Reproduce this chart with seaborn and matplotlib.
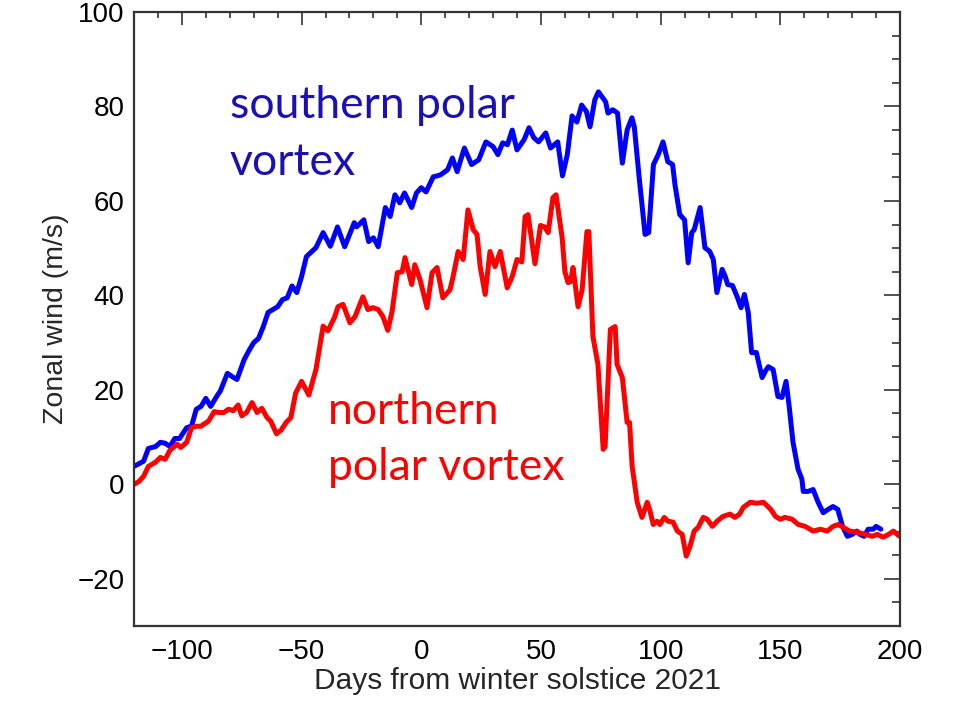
import matplotlib
matplotlib.use("Agg")
import matplotlib.pyplot as plt
from matplotlib.ticker import MultipleLocator
import numpy as np
import pandas as pd
import seaborn as sns

# Zonal-mean zonal wind at the polar vortex edge, days relative to winter solstice 2021
days_south = [-120, -116, -114, -111, -109, -107, -105, -103, -101, -98, -96, -94, -92, -90,
              -88, -85, -84, -81, -79, -77, -74, -72, -70, -68, -66, -64, -60, -58, -56,
              -54, -52, -50, -48, -44, -41, -38, -35, -32, -28, -27, -24, -22, -20, -18,
              -15, -13, -11, -9, -7, -4, -2, 0, 2, 5, 8, 11, 13, 15, 18, 21, 24, 27, 30,
              32, 34, 36, 38, 40, 43, 45, 47, 49, 52, 54, 57, 59, 61, 63, 65, 67, 69,
              70.5, 72.5, 74, 77, 78, 80, 82, 84, 86, 88, 89, 91, 93.5, 95, 97, 99, 101,
              103, 105, 106, 108, 110, 111.5, 113, 114, 116.5, 118.5, 120.5, 122, 123.5,
              125.7, 127, 128, 130, 132, 133.6, 135, 136.6, 138, 140, 142.4, 143.7, 145,
              147, 149, 150.7, 152.4, 153.7, 155.3, 157.4, 159, 159.6, 161.6, 163.7,
              165.8, 167.9, 170, 172, 174, 176, 178, 180, 182, 183.3, 185, 186.7, 188.8,
              190, 192]
wind_south = [3.8, 4.9, 7.6, 8.0, 8.9, 8.7, 8.0, 9.7, 9.7, 12.0, 12.3, 15.9, 16.5, 18.2,
              16.5, 19.0, 19.7, 23.5, 22.8, 22.2, 26.4, 28.3, 30.0, 30.9, 33.4, 36.4, 37.6,
              39.1, 39.5, 42.0, 40.6, 44.0, 48.2, 50.1, 53.3, 50.4, 54.5, 50.3, 55.4, 54.5,
              56.0, 51.4, 52.2, 50.3, 58.6, 56.7, 61.3, 59.6, 61.7, 58.6, 61.7, 62.8, 61.9,
              65.1, 65.5, 66.6, 69.1, 66.2, 71.2, 67.7, 68.7, 72.5, 71.5, 69.8, 72.3, 71.9,
              75.0, 70.8, 73.0, 75.5, 73.4, 72.5, 74.4, 71.2, 72.5, 65.3, 69.8, 78.0, 76.7,
              80.3, 78.9, 75.7, 81.4, 83.1, 81.0, 78.6, 79.3, 78.6, 68.0, 75.0, 77.6, 75.7,
              65.1, 52.9, 53.3, 67.7, 69.8, 72.5, 68.3, 67.7, 63.4, 57.1, 56.0, 46.9, 53.3,
              53.9, 58.6, 50.1, 49.3, 47.6, 40.6, 45.5, 44.0, 42.3, 42.1, 39.7, 37.4, 40.2,
              36.4, 27.9, 27.9, 22.6, 23.9, 24.9, 24.3, 18.6, 18.4, 21.8, 16.5, 8.9, 3.2,
              1.1, -1.5, -1.5, -1.1, -3.8, -6.0, -5.3, -4.7, -5.3, -8.9, -11.0, -10.6,
              -9.9, -10.6, -11.0, -9.5, -9.5, -8.9, -9.5]

days_north = [-120, -118, -116, -114, -111, -109, -107, -105, -102, -100.5, -98, -96, -94,
              -92, -91, -89, -86.5, -84.5, -82.5, -80.5, -78.5, -76.5, -75, -73, -70.7,
              -68.6, -66.6, -64.5, -62.8, -60.5, -58.5, -56.5, -54.5, -52.5, -50, -47, -44,
              -41, -39, -36.2, -34.8, -32.7, -29.8, -27.7, -24.4, -22.3, -20.2, -18, -16,
              -14, -12.2, -10, -8, -6.8, -4, -2.7, -0.5, 2.4, 4.5, 6.6, 9, 12, 13.3, 15.4,
              17.5, 19.5, 21.7, 23.3, 24.6, 26.7, 28.7, 30.8, 33, 34.2, 35.9, 38, 40, 42,
              43.4, 44.6, 47.5, 49.8, 51.5, 53, 55, 56.3, 58.8, 60, 61.3, 62.3, 63.4, 65.5,
              67.2, 69.2, 70, 71.7, 73.8, 76, 76.8, 79, 81, 81.8, 84, 86, 87, 88.1, 90.2,
              92.2, 94.4, 95.6, 96.9, 98.5, 99.7, 101.5, 103, 105.2, 107, 109, 110.7,
              112.3, 114, 115.7, 117.8, 119.5, 121.6, 123.6, 126, 129, 131, 133, 134.5,
              137.4, 140.3, 143, 146, 148, 150, 152, 155, 157.5, 160.4, 163.7, 166.7,
              169.6, 172, 174.2, 176.3, 179, 182, 185.5, 188.4, 190.5, 193, 195.2, 197.3,
              199.3, 200]
wind_north = [0.0, 0.6, 1.7, 3.8, 4.7, 5.7, 5.3, 7.2, 8.5, 7.8, 8.9, 12.0, 12.3, 12.3, 12.7,
              13.3, 15.4, 15.2, 15.2, 15.9, 15.6, 16.8, 14.5, 15.2, 17.3, 15.2, 16.1, 14.2,
              13.3, 10.7, 11.5, 13.1, 14.1, 19.3, 21.8, 18.9, 24.3, 33.5, 32.5, 35.4, 37.6,
              38.1, 34.2, 35.5, 39.7, 37.0, 37.4, 37.0, 35.5, 32.6, 36.6, 44.8, 45.0, 48.0,
              42.3, 46.5, 43.3, 37.4, 44.8, 45.9, 39.5, 41.2, 44.0, 49.3, 47.6, 58.1, 53.9,
              52.9, 46.1, 40.2, 49.3, 46.1, 49.3, 46.1, 41.6, 44.0, 47.6, 47.1, 56.7, 57.1,
              46.7, 54.8, 54.5, 53.3, 60.7, 61.3, 52.4, 45.0, 42.7, 42.9, 45.9, 37.6, 41.2,
              53.5, 53.5, 31.3, 25.4, 7.4, 8.0, 32.8, 33.4, 25.4, 22.6, 13.1, 13.1, 3.8,
              -3.8, -7.0, -3.8, -5.7, -8.5, -7.8, -8.5, -7.0, -7.8, -8.0, -9.9, -10.6,
              -15.2, -13.1, -9.9, -9.1, -7.0, -7.4, -8.9, -7.8, -6.8, -6.3, -7.0, -6.3,
              -4.9, -3.8, -4.0, -3.8, -5.3, -6.8, -7.4, -7.0, -7.4, -8.5, -8.9, -9.9, -9.5,
              -9.9, -8.9, -8.5, -9.1, -9.9, -10.1, -10.6, -11.0, -10.6, -11.2, -10.6, -9.9,
              -10.8, -11.0]

x_ticks = [-100, -50, 0, 50, 100, 150, 200]
y_ticks = [-20, 0, 20, 40, 60, 80, 100]

south = pd.DataFrame({"day": days_south, "wind": wind_south})
north = pd.DataFrame({"day": days_north, "wind": wind_north})

sns.set_style("white")
plt.rcParams["font.family"] = ["Liberation Sans", "DejaVu Sans"]

fig = plt.figure(figsize=(9.54, 7.05), dpi=100)
ax = fig.add_axes([0.1405, 0.112, 0.8029, 0.871])

sns.lineplot(data=south, x="day", y="wind", color="#0000ff", lw=3.6, ax=ax)
sns.lineplot(data=north, x="day", y="wind", color="#ff0000", lw=3.6, ax=ax)

ax.set_xlim(-120, 200)
ax.set_ylim(-30, 100)
ax.set_xticks(x_ticks)
ax.set_yticks(y_ticks)
ax.xaxis.set_minor_locator(MultipleLocator(10))
ax.yaxis.set_minor_locator(MultipleLocator(5))

ax.tick_params(axis="both", which="both", direction="in", top=True, right=True,
               color="#333333", width=1.2, labelsize=20, labelcolor="black")
ax.tick_params(axis="x", which="major", length=9.5, pad=9)
ax.tick_params(axis="x", which="minor", length=4.5)
ax.tick_params(axis="y", which="major", length=11.5, pad=7)
ax.tick_params(axis="y", which="minor", length=6)

for sp in ax.spines.values():
    sp.set_visible(True)
    sp.set_color("#333333")
    sp.set_linewidth(1.6)

ax.set_xlabel("Days from winter solstice 2021", fontsize=21.5, labelpad=2)
ax.set_ylabel("Zonal wind (m/s)", fontsize=20.5, labelpad=6)

label_font = ["Lato", "DejaVu Sans"]
ax.text(-80, 77.6, "southern polar", color="#1a10b4", fontsize=32,
        family=label_font, va="baseline", ha="left")
ax.text(-80, 65.5, "vortex", color="#1a10b4", fontsize=32,
        family=label_font, va="baseline", ha="left")
ax.text(-39, 12.7, "northern", color="#ff0000", fontsize=32,
        family=label_font, va="baseline", ha="left")
ax.text(-39, 1.0, "polar vortex", color="#ff0000", fontsize=32,
        family=label_font, va="baseline", ha="left")

fig.savefig("out.png", dpi=100)
